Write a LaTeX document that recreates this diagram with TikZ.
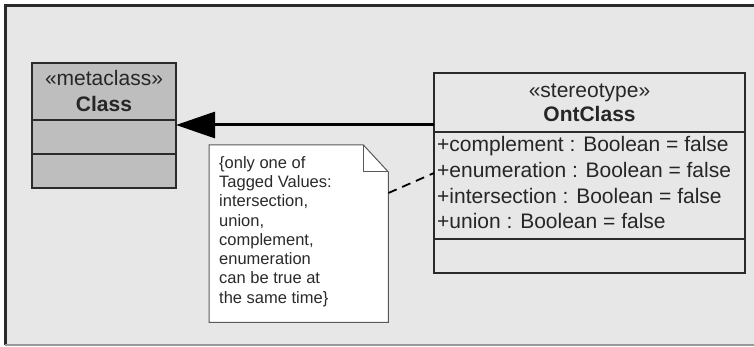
\documentclass[tikz,border=0pt]{standalone}
\usepackage{fontspec}
\setmainfont{Liberation Sans}
\usetikzlibrary{arrows.meta}
\definecolor{paper}{HTML}{E7E7E7}
\definecolor{metagray}{HTML}{BEBEBE}
\definecolor{ink}{HTML}{2A2A2A}
\tikzset{
  compart/.style={draw=ink, line width=1.6pt, anchor=north west, inner sep=0pt, outer sep=0pt},
  uml/.style={font=\fontsize{21}{26}\selectfont, text=ink!90!black, inner sep=0pt},
  notetext/.style={font=\fontsize{16.5}{19.3}\selectfont, text=ink, align=left, inner sep=0pt, anchor=north west},
}
\begin{document}
\begin{tikzpicture}[x=1pt, y=-1pt]
  % canvas and frame
  \useasboundingbox (0,0) rectangle (754,347);
  \fill[white] (0,0) rectangle (754,347);
  \fill[paper] (5,5) rectangle (754,345);
  \draw[ink, line width=3pt] (5.5,345) -- (5.5,5.5) -- (754,5.5);
  \draw[gray!80, line width=1.2pt] (5,345) -- (754,345);

  % metaclass Class
  \node[compart, fill=metagray, minimum width=144pt, minimum height=57pt] (classHead) at (32,63) {};
  \node[compart, fill=metagray, minimum width=144pt, minimum height=34pt] (classAttr) at (32,120) {};
  \node[compart, fill=metagray, minimum width=144pt, minimum height=34pt] (classOps) at (32,154) {};
  \node[uml, anchor=base] (classSt) at (104,86) {«metaclass»};
  \node[uml, anchor=base, font=\fontsize{21}{26}\selectfont\bfseries] (className) at (104,112) {Class};

  % stereotype OntClass
  \node[compart, fill=paper, minimum width=311pt, minimum height=59pt] (ontHead) at (434,73) {};
  \node[compart, fill=paper, minimum width=311pt, minimum height=107pt] (ontAttr) at (434,132) {};
  \node[compart, fill=paper, minimum width=311pt, minimum height=34pt] (ontOps) at (434,239) {};
  \node[uml, anchor=base] (ontSt) at (589.5,98) {«stereotype»};
  \node[uml, anchor=base, font=\fontsize{21}{26}\selectfont\bfseries] (ontName) at (589.5,122) {OntClass};
  \node[uml, anchor=base west] (att1) at (437,152) {+complement : Boolean = false};
  \node[uml, anchor=base west] (att2) at (437,178) {+enumeration : Boolean = false};
  \node[uml, anchor=base west] (att3) at (437,203.5) {+intersection : Boolean = false};
  \node[uml, anchor=base west] (att4) at (437,229) {+union : Boolean = false};

  % extension arrow
  \draw[black, line width=3pt, -{Triangle[length=39pt, width=26pt]}]
    (ontHead.west |- 0,125) -- (classAttr.east |- 0,125);

  % note with folded corner
  \node[inner sep=0pt, minimum width=179pt, minimum height=177pt, anchor=north west] (note) at (209,145) {};
  \fill[white, draw=gray!70!black, line width=1pt]
    (note.north west) -- ([xshift=-25pt]note.north east) -- ([yshift=-27pt]note.north east)
    -- (note.south east) -- (note.south west) -- cycle;
  \draw[gray!70!black, line width=1pt]
    ([xshift=-25pt]note.north east) -- ([xshift=-25pt, yshift=-27pt]note.north east)
    -- ([yshift=-27pt]note.north east);
  \node[notetext] (noteText) at (219,156) {\{only one of\\Tagged Values:\\intersection,\\union,\\complement,\\enumeration\\can be true at\\the same time\}};

  % anchor line from the note to the attributes
  \draw[black, line width=1.8pt, dash pattern=on 9pt off 6pt]
    (note.east |- 0,193) -- (ontAttr.west |- 0,173);
\end{tikzpicture}
\end{document}
